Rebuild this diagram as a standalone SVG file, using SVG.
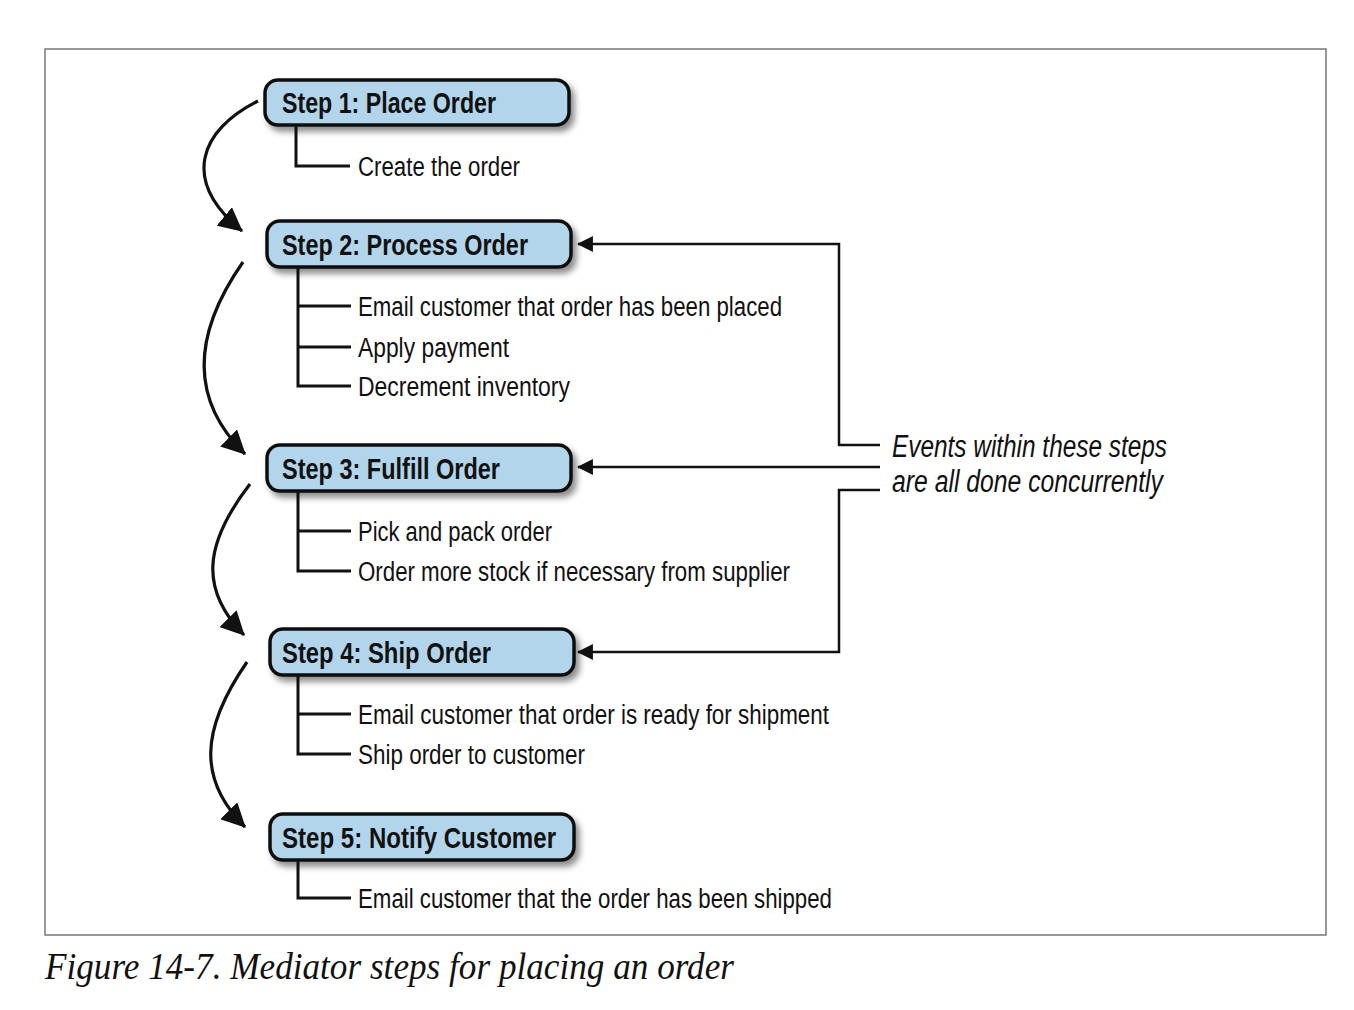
<svg xmlns="http://www.w3.org/2000/svg" width="1354" height="1010" viewBox="0 0 1354 1010">
<style>
.box{fill:#b3d5eb;stroke:#111;stroke-width:3.5}
.title{font-family:"Liberation Sans",Arial,sans-serif;font-weight:bold;font-size:30px;fill:#111}
.item{font-family:"Liberation Sans",Arial,sans-serif;font-size:27px;fill:#111}
.note{font-family:"Liberation Sans",Arial,sans-serif;font-style:italic;font-size:31px;fill:#111}
.cap{font-family:"Liberation Serif","Times New Roman",serif;font-style:italic;font-size:37px;fill:#111}
.br{fill:none;stroke:#111;stroke-width:3}
.curve{fill:none;stroke:#111;stroke-width:3.2;marker-end:url(#big)}
.con{fill:none;stroke:#111;stroke-width:2.5;marker-end:url(#small)}
</style>
<defs>
<filter id="sh" x="-10%" y="-30%" width="125%" height="170%">
<feDropShadow dx="4" dy="5" stdDeviation="3" flood-color="#000" flood-opacity="0.45"/>
</filter>
<marker id="big" markerUnits="userSpaceOnUse" markerWidth="24" markerHeight="24" viewBox="0 0 22 22" refX="21" refY="11" orient="auto">
<path d="M0,0 L22,11 L0,22 z" fill="#111"/>
</marker>
<marker id="small" markerUnits="userSpaceOnUse" markerWidth="16" markerHeight="16" viewBox="0 0 15 15" refX="14" refY="7.5" orient="auto">
<path d="M0,0 L15,7.5 L0,15 z" fill="#111"/>
</marker>
</defs>
<rect width="1354" height="1010" fill="#fff"/>
<rect x="45" y="49" width="1281" height="886" fill="none" stroke="#777" stroke-width="1.5"/>

<g id="connectors">
<path class="curve" d="M258,101 C200,130 180,180 242,231"/>
<path class="curve" d="M243,262 C192,335 190,400 245,454"/>
<path class="curve" d="M250,484 C203,545 200,590 244,635"/>
<path class="curve" d="M247,662 C200,730 198,780 245,827"/>
<path class="con" d="M880,445 H839 V244 H578"/>
<path class="con" d="M880,467 H578"/>
<path class="con" d="M880,490 H839 V652 H578"/>
</g>

<g id="step1">
<rect class="box" x="265" y="80" width="304" height="45" rx="13" filter="url(#sh)"/>
<text class="title" x="282" y="113" textLength="214" lengthAdjust="spacingAndGlyphs">Step 1: Place Order</text>
<path class="br" d="M296,125 V166 H350"/>
<text class="item" x="358" y="176" textLength="162" lengthAdjust="spacingAndGlyphs">Create the order</text>
</g>

<g id="step2">
<rect class="box" x="267" y="221" width="304" height="46" rx="13" filter="url(#sh)"/>
<text class="title" x="282" y="255" textLength="246" lengthAdjust="spacingAndGlyphs">Step 2: Process Order</text>
<path class="br" d="M298,267 V386 H351 M298,306 H351 M298,347 H351"/>
<text class="item" x="358" y="316" textLength="424" lengthAdjust="spacingAndGlyphs">Email customer that order has been placed</text>
<text class="item" x="358" y="357" textLength="151" lengthAdjust="spacingAndGlyphs">Apply payment</text>
<text class="item" x="358" y="396" textLength="212" lengthAdjust="spacingAndGlyphs">Decrement inventory</text>
</g>

<g id="step3">
<rect class="box" x="267" y="445" width="304" height="46" rx="13" filter="url(#sh)"/>
<text class="title" x="282" y="479" textLength="218" lengthAdjust="spacingAndGlyphs">Step 3: Fulfill Order</text>
<path class="br" d="M298,491 V571 H351 M298,531 H351"/>
<text class="item" x="358" y="541" textLength="194" lengthAdjust="spacingAndGlyphs">Pick and pack order</text>
<text class="item" x="358" y="581" textLength="432" lengthAdjust="spacingAndGlyphs">Order more stock if necessary from supplier</text>
</g>

<g id="step4">
<rect class="box" x="270" y="629" width="304" height="46" rx="13" filter="url(#sh)"/>
<text class="title" x="282" y="663" textLength="209" lengthAdjust="spacingAndGlyphs">Step 4: Ship Order</text>
<path class="br" d="M298,675 V754 H351 M298,714 H351"/>
<text class="item" x="358" y="724" textLength="471" lengthAdjust="spacingAndGlyphs">Email customer that order is ready for shipment</text>
<text class="item" x="358" y="764" textLength="227" lengthAdjust="spacingAndGlyphs">Ship order to customer</text>
</g>

<g id="step5">
<rect class="box" x="270" y="814" width="304" height="46" rx="13" filter="url(#sh)"/>
<text class="title" x="282" y="848" textLength="274" lengthAdjust="spacingAndGlyphs">Step 5: Notify Customer</text>
<path class="br" d="M298,860 V898 H351"/>
<text class="item" x="358" y="908" textLength="474" lengthAdjust="spacingAndGlyphs">Email customer that the order has been shipped</text>
</g>

<g id="note">
<text class="note" x="892" y="457" textLength="275" lengthAdjust="spacingAndGlyphs">Events within these steps</text>
<text class="note" x="892" y="492" textLength="271" lengthAdjust="spacingAndGlyphs">are all done concurrently</text>
</g>

<text class="cap" x="45" y="979" textLength="689" lengthAdjust="spacingAndGlyphs">Figure 14-7. Mediator steps for placing an order</text>
</svg>
